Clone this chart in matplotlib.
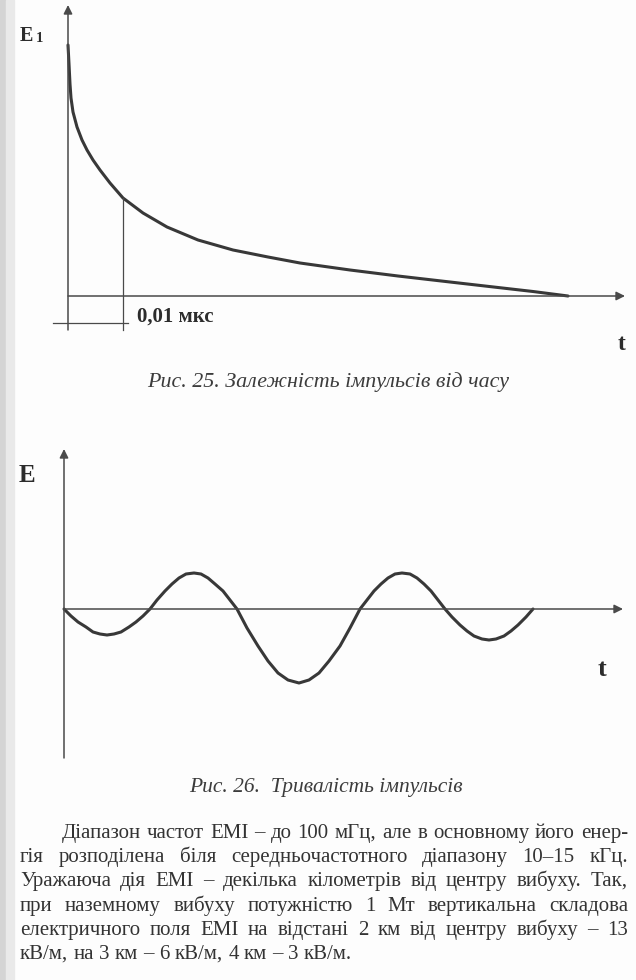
import matplotlib
matplotlib.use("Agg")
import matplotlib.pyplot as plt
from matplotlib.patches import Rectangle

W, H = 636, 980

# Fig. 25: pulse decay (t offset, E height)
decay_t = [0, 1, 2, 3, 5, 9, 14, 19, 25, 32, 42, 55, 75, 99, 130, 165, 200, 232,
           282, 330, 382, 430, 465, 500]
decay_e = [251, 232, 212, 198, 184, 169, 156, 146, 136, 126, 113, 98, 83, 69, 56,
           46, 39, 33, 26, 20, 14, 8.5, 4.5, 0]
marker_t = 55
marker_label = "0,01 мкс"

# Fig. 26: oscillating pulse
wave_t = [0, 7, 14, 22, 29, 36, 43, 50, 57, 65, 72, 79,
          86, 93, 101, 108, 115, 122, 130, 137, 144, 151, 159, 166,
          173, 183, 194, 204, 214, 224, 235, 245, 255, 265, 276, 286,
          296, 303, 310, 317, 324, 331, 338, 346, 353, 360, 367, 374,
          381, 388, 396, 403, 410, 418, 425, 432, 440, 447, 454, 462, 469]
wave_e = [0, -7, -13, -18, -23, -25, -26, -25, -23, -18, -13, -7,
          0, 9, 18, 25, 31, 35, 36, 35, 31, 25, 18, 9,
          0, -19, -37, -52, -64, -71, -74, -71, -64, -52, -37, -19,
          0, 9, 18, 25, 31, 35, 36, 35, 31, 25, 18, 9,
          0, -8, -16, -22, -27, -30, -31, -30, -27, -22, -16, -8, 0]

caption_25 = "Рис. 25. Залежність імпульсів від часу"
caption_26 = "Рис. 26.  Тривалість імпульсів"

paragraph = [
    "Діапазон частот ЕМІ – до 100 мГц, але в основному його енер-",
    "гія розподілена біля середньочастотного діапазону 10–15 кГц.",
    "Уражаюча дія ЕМІ – декілька кілометрів від центру вибуху. Так,",
    "при наземному вибуху потужністю 1 Мт вертикальна складова",
    "електричного поля ЕМІ на відстані 2 км від центру вибуху – 13",
    "кВ/м, на 3 км – 6 кВ/м, 4 км – 3 кВ/м.",
]

AXIS = "#4a4a4a"
CURVE = "#383838"
INK = "#2c2c2c"
SERIF = "Liberation Serif"


def arrow(ax, start, tip):
    ax.annotate("", xy=tip, xytext=start,
                arrowprops=dict(arrowstyle="-|>", color=AXIS, lw=1.1,
                                mutation_scale=13, shrinkA=0, shrinkB=0))


def text_width(fig, s, **kw):
    r = fig.canvas.get_renderer()
    t = fig.text(0, 0, s, **kw)
    w = t.get_window_extent(r).width
    t.remove()
    return w


def justify(fig, line, x0, x1, y, last=False, **kw):
    r = fig.canvas.get_renderer()
    words = line.split(" ")
    texts = [fig.text(0, 0, w, va="center", **kw) for w in words]
    widths = [t.get_window_extent(r).width for t in texts]
    if last or len(words) == 1:
        gap = text_width(fig, "a a", **kw) - 2 * text_width(fig, "a", **kw)
    else:
        gap = (x1 - x0 - sum(widths)) / (len(words) - 1)
    x = x0
    for t, w in zip(texts, widths):
        t.set_position((x / W, 1 - y / H))
        x += w + gap


fig = plt.figure(figsize=(W / 100, H / 100), dpi=100)
fig.patch.set_facecolor("#fdfdfd")
# scanned page shadow on the left edge
fig.patches.append(Rectangle((0, 0), 6 / W, 1, transform=fig.transFigure,
                             color="#d4d4d4", zorder=0))
fig.patches.append(Rectangle((6 / W, 0), 8 / W, 1, transform=fig.transFigure,
                             color="#e9e9e9", zorder=0))

# ---- Fig. 25 ----
ax1 = fig.add_axes([0, 540 / H, 1, 440 / H])
ax1.set_xlim(-68, 568)
ax1.set_ylim(-144, 296)
ax1.axis("off")

arrow(ax1, (0, -34), (0, 291))
arrow(ax1, (0, 0), (557, 0))
ax1.plot(decay_t, decay_e, color=CURVE, lw=2.2, solid_capstyle="round",
         solid_joinstyle="round")
marker_e = decay_e[decay_t.index(marker_t)]
ax1.plot([marker_t, marker_t], [marker_e, -34], color=AXIS, lw=0.9)
ax1.plot([-15, marker_t + 5], [-27, -27], color=AXIS, lw=0.9)
ax1.text(marker_t + 14, -21, marker_label, fontsize=15, fontweight="bold",
         family=SERIF, color=INK, va="center", ha="left")
ax1.text(-48, 260, "E", fontsize=14.5, fontweight="bold", family=SERIF,
         color=INK, va="center", ha="left")
ax1.text(-32, 258, "1", fontsize=10.5, fontweight="bold", family=SERIF,
         color=INK, va="center", ha="left")
ax1.text(554, -48, "t", fontsize=17, fontweight="bold", family=SERIF,
         color=INK, va="center", ha="center")
ax1.text(260, -86, caption_25, fontsize=15.8, style="italic", family=SERIF,
         color="#3c3c3c", va="center", ha="center")

# ---- Fig. 26 ----
ax2 = fig.add_axes([0, 180 / H, 1, 360 / H])
ax2.set_xlim(-64, 572)
ax2.set_ylim(-191, 169)
ax2.axis("off")

arrow(ax2, (0, -149), (0, 160))
arrow(ax2, (0, 0), (559, 0))
ax2.plot(wave_t, wave_e, color=CURVE, lw=2.2, solid_capstyle="round",
         solid_joinstyle="round")
ax2.text(-37, 133, "E", fontsize=18, fontweight="bold", family=SERIF,
         color=INK, va="center", ha="center")
ax2.text(538, -60, "t", fontsize=19, fontweight="bold", family=SERIF,
         color=INK, va="center", ha="center")
ax2.text(262, -178, caption_26, fontsize=15.5, style="italic", family=SERIF,
         color="#3c3c3c", va="center", ha="center")

# ---- body text ----
fig.canvas.draw()
line_y = [833, 857, 881, 906, 930, 954]
for i, (line, y) in enumerate(zip(paragraph, line_y)):
    x0 = 62 if i == 0 else 20
    justify(fig, line, x0, 628, y, last=(i == len(paragraph) - 1),
            fontsize=15, family=SERIF, color="#333333")

fig.savefig("out.png", dpi=100)
